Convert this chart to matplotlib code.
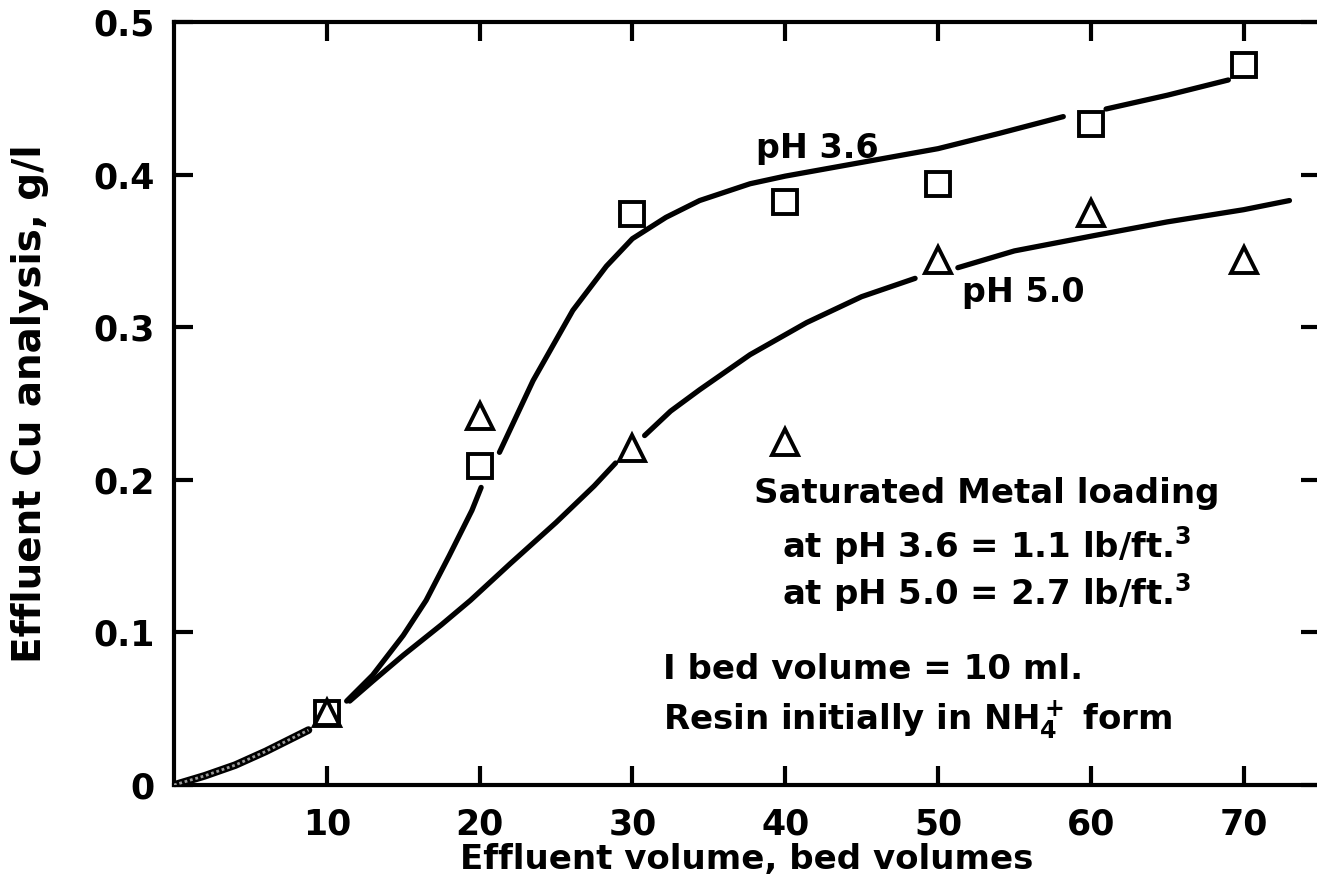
import numpy as np
import matplotlib
matplotlib.use("Agg")
import matplotlib.pyplot as plt

# ---- data ----
bed_volumes = [10, 20, 30, 40, 50, 60, 70]
cu_ph36 = [0.047, 0.209, 0.374, 0.382, 0.394, 0.433, 0.472]
cu_ph50 = [0.047, 0.242, 0.221, 0.225, 0.344, 0.375, 0.344]

# hand-drawn curves (NaN = break in the drawn line around a marker)
start_x = [0, 2, 4, 6, 8.8]
start_y = [0, 0.006, 0.013, 0.022, 0.036]

curve36_x = [11.3, 13, 15, 16.5, 18, 19.5, 20.1, np.nan,
             21.3, 23.5, 26.1, 28.3, 30, 32.2, 34.4, 37.7, 40, 45, 50, 54, 58.2, np.nan,
             61, 65, 69]
curve36_y = [0.055, 0.072, 0.098, 0.121, 0.150, 0.180, 0.195, np.nan,
             0.218, 0.265, 0.311, 0.340, 0.358, 0.372, 0.383, 0.394, 0.399, 0.408, 0.417, 0.427, 0.438, np.nan,
             0.443, 0.452, 0.462]

curve50_x = [11.5, 13, 15, 17.5, 19.4, 22, 25, 27.5, 28.9, np.nan,
             30.8, 32.5, 34.4, 37.7, 41.4, 45, 48.5, np.nan,
             51.3, 55, 60.2, 65, 70, 73]
curve50_y = [0.055, 0.068, 0.085, 0.105, 0.121, 0.145, 0.172, 0.196, 0.211, np.nan,
             0.229, 0.245, 0.259, 0.282, 0.303, 0.320, 0.332, np.nan,
             0.339, 0.350, 0.360, 0.369, 0.377, 0.383]

x_ticks = [10, 20, 30, 40, 50, 60, 70]
x_ticklabels = ["10", "20", "30", "40", "50", "60", "70"]
y_ticks = [0, 0.1, 0.2, 0.3, 0.4, 0.5]
y_ticklabels = ["0", "0.1", "0.2", "0.3", "0.4", "0.5"]

plt.rcParams['font.family'] = ['DejaVu Sans']
plt.rcParams['font.weight'] = 'bold'
plt.rcParams['axes.labelweight'] = 'bold'
plt.rcParams['mathtext.fontset'] = 'dejavusans'
plt.rcParams['mathtext.default'] = 'bf'

W, H = 1317, 881
fig = plt.figure(figsize=(W / 100, H / 100), dpi=100)
left, bottom = 174, 785
px_per_x = 15.28
px_per_y = 1526
xmax, ymax = 75, 0.5
ax = fig.add_axes([left / W, (H - bottom) / H, xmax * px_per_x / W, ymax * px_per_y / H])
ax.set_xlim(0, xmax)
ax.set_ylim(0, ymax)

lw = 3.8
ax.plot(start_x, start_y, color='black', lw=5.5, solid_capstyle='round', zorder=2)
ax.plot(start_x, start_y, color='#9a9a9a', lw=2.0, ls=(0, (1, 1)), zorder=3)
ax.plot(curve36_x, curve36_y, color='black', lw=lw, solid_capstyle='round', zorder=2)
ax.plot(curve50_x, curve50_y, color='black', lw=lw, solid_capstyle='round', zorder=2)

ax.plot(bed_volumes, cu_ph36, ls='none', marker='s', ms=17, mfc='white', mec='black', mew=2.8, zorder=4)
ax.plot(bed_volumes, cu_ph50, ls='none', marker='^', ms=19, mfc='none', mec='black', mew=2.8, zorder=5)

tfs = 24.5
ax.text(42.1, 0.417, "pH 3.6", fontsize=24, ha='center', va='center')
ax.text(55.6, 0.323, "pH 5.0", fontsize=24, ha='center', va='center')

ax.text(53.2, 0.191, "Saturated Metal loading", fontsize=tfs, ha='center', va='center')
ax.text(53.2, 0.157, r"at pH 3.6 = 1.1 lb/ft.$^3$", fontsize=tfs, ha='center', va='center')
ax.text(53.2, 0.126, r"at pH 5.0 = 2.7 lb/ft.$^3$", fontsize=tfs, ha='center', va='center')
ax.text(32.0, 0.076, "I bed volume = 10 ml.", fontsize=tfs, ha='left', va='center')
ax.text(32.0, 0.042, r"Resin initially in NH$_4^+$ form", fontsize=tfs, ha='left', va='center')

ax.set_xticks(x_ticks)
ax.set_xticklabels(x_ticklabels)
ax.set_yticks(y_ticks)
ax.set_yticklabels(y_ticklabels)
ax.tick_params(axis='both', direction='in', length=14, width=3, labelsize=25, pad=14,
               top=True, right=True)
ax.tick_params(axis='x', pad=16)
for s in ax.spines.values():
    s.set_linewidth(3)

ax.set_xlabel("Effluent volume, bed volumes", fontsize=24.5, va='center')
ax.xaxis.set_label_coords(0.5, (bottom - 860) / (ymax * px_per_y))
ax.set_ylabel("Effluent Cu analysis, g/l", fontsize=28, va='center')
ax.yaxis.set_label_coords((30 - left) / (xmax * px_per_x), 0.5)

fig.savefig("out.png", dpi=100)
